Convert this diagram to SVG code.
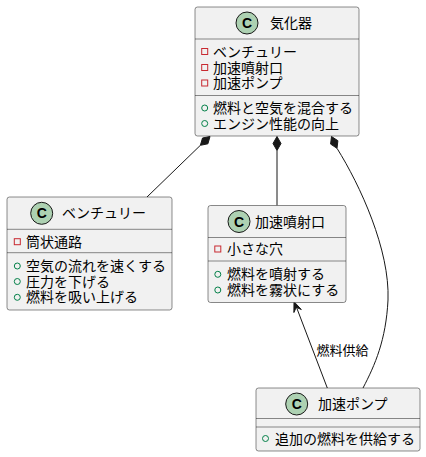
<svg xmlns="http://www.w3.org/2000/svg" width="426" height="457" viewBox="0 0 426 457">
<style>
.box{fill:#F1F1F1;stroke:#181818;stroke-width:0.5}
.sep{stroke:#181818;stroke-width:0.5}
.ci{fill:#ADD1B2;stroke:#181818;stroke-width:1}
.cl{font-family:"Liberation Sans",sans-serif;font-weight:bold;font-size:14px;fill:#000}
.t{font-family:"Noto Sans CJK JP","Noto Sans",sans-serif;font-size:14px;fill:#000}
.lbl{font-family:"Noto Sans CJK JP","Noto Sans",sans-serif;font-size:13px;fill:#000}
.priv{fill:none;stroke:#C82930;stroke-width:1}
.pub{fill:none;stroke:#038048;stroke-width:1}
.ln{fill:none;stroke:#181818;stroke-width:1}
.dia{fill:#181818;stroke:#181818;stroke-width:1}
</style>
<g id="connectors">
<line class="ln" x1="200.4" y1="145.3" x2="147" y2="197"/>
<polygon class="dia" points="210,136.5 207.9,143.8 200.4,145.3 202.5,138"/>
<line class="ln" x1="277" y1="150.5" x2="277" y2="205.5"/>
<polygon class="dia" points="277,136.5 281,143.5 277,150.5 273,143.5"/>
<path class="ln" d="M337,148.3 C360,185 390,250 388,300 C386,340 375,365 363,388"/>
<polygon class="dia" points="331.5,136.5 337.9,140.7 337,148.3 330.6,144.1"/>
<line class="ln" x1="327.3" y1="388" x2="296" y2="306"/>
<polygon class="dia" points="294,301.7 301.3,309.5 296.2,307.3 293.9,312.5"/>
<text class="lbl" x="316.5" y="354.5">燃料供給</text>
</g>
<g id="kikaki">
<rect class="box" x="195" y="7" width="164" height="129" rx="2.5"/>
<circle class="ci" cx="247" cy="23" r="11"/>
<text class="cl" x="247" y="28" text-anchor="middle">C</text>
<text class="t" x="270" y="28">気化器</text>
<line class="sep" x1="195" y1="39" x2="359" y2="39"/>
<rect class="priv" x="201.7" y="48.5" width="6" height="6"/>
<rect class="priv" x="201.7" y="64.5" width="6" height="6"/>
<rect class="priv" x="201.7" y="80" width="6" height="6"/>
<text class="t"><tspan x="213" y="56.5">ベンチュリー</tspan><tspan x="213" y="72.5">加速噴射口</tspan><tspan x="213" y="88">加速ポンプ</tspan></text>
<line class="sep" x1="195" y1="95.5" x2="359" y2="95.5"/>
<circle class="pub" cx="204.7" cy="108" r="3"/>
<circle class="pub" cx="204.7" cy="123.5" r="3"/>
<text class="t"><tspan x="213" y="113">燃料と空気を混合する</tspan><tspan x="213" y="128.5">エンジン性能の向上</tspan></text>
</g>
<g id="venturi">
<rect class="box" x="7" y="197" width="165" height="113" rx="2.5"/>
<circle class="ci" cx="41.7" cy="213.3" r="11"/>
<text class="cl" x="41.7" y="218.3" text-anchor="middle">C</text>
<text class="t" x="62" y="218.3">ベンチュリー</text>
<line class="sep" x1="7" y1="229.3" x2="172" y2="229.3"/>
<rect class="priv" x="14.3" y="238.7" width="6" height="6"/>
<text class="t" x="26" y="246.7">筒状通路</text>
<line class="sep" x1="7" y1="252.7" x2="172" y2="252.7"/>
<circle class="pub" cx="17.3" cy="266" r="3"/>
<circle class="pub" cx="17.3" cy="281.5" r="3"/>
<circle class="pub" cx="17.3" cy="297.3" r="3"/>
<text class="t"><tspan x="26" y="271">空気の流れを速くする</tspan><tspan x="26" y="286.5">圧力を下げる</tspan><tspan x="26" y="302.3">燃料を吸い上げる</tspan></text>
</g>
<g id="injector">
<rect class="box" x="208" y="205.5" width="138" height="97" rx="2.5"/>
<circle class="ci" cx="239" cy="221.5" r="11"/>
<text class="cl" x="239" y="226.5" text-anchor="middle">C</text>
<text class="t" x="255" y="226.5">加速噴射口</text>
<line class="sep" x1="208" y1="237.5" x2="346" y2="237.5"/>
<rect class="priv" x="214.8" y="246" width="6" height="6"/>
<text class="t" x="227" y="254">小さな穴</text>
<line class="sep" x1="208" y1="261" x2="346" y2="261"/>
<circle class="pub" cx="217.8" cy="274.3" r="3"/>
<circle class="pub" cx="217.8" cy="290" r="3"/>
<text class="t"><tspan x="227" y="279.3">燃料を噴射する</tspan><tspan x="227" y="295">燃料を霧状にする</tspan></text>
</g>
<g id="pump">
<rect class="box" x="256" y="388" width="164" height="63" rx="2.5"/>
<circle class="ci" cx="296.7" cy="404" r="11"/>
<text class="cl" x="296.7" y="409" text-anchor="middle">C</text>
<text class="t" x="318" y="409">加速ポンプ</text>
<line class="sep" x1="256" y1="418.5" x2="420" y2="418.5"/>
<line class="sep" x1="256" y1="427" x2="420" y2="427"/>
<circle class="pub" cx="265.5" cy="438.5" r="3"/>
<text class="t" x="275" y="443.5">追加の燃料を供給する</text>
</g>
</svg>
